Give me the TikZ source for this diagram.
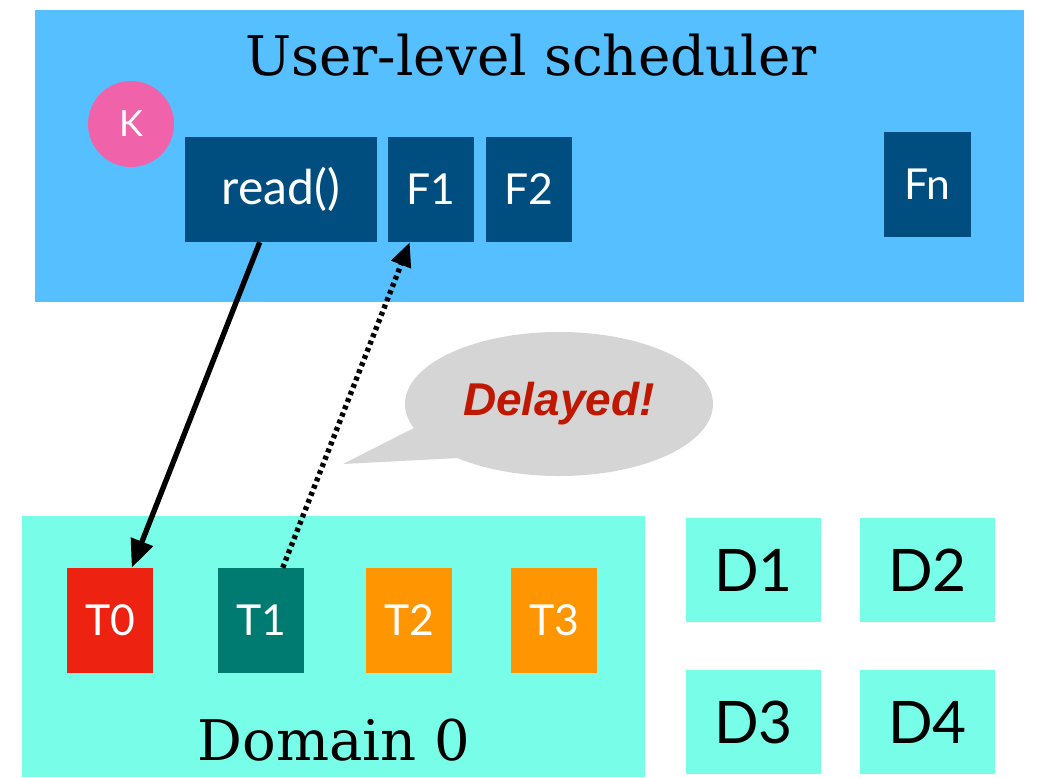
\documentclass[tikz,border=0pt]{standalone}
\usepackage{fontspec}
\setmainfont{DejaVu Serif}
\newfontfamily\boxfont{Lato}
\newfontfamily\delfont{Liberation Sans}
\usetikzlibrary{arrows.meta,shapes.geometric,calc}
\definecolor{schedblue}{HTML}{56BFFF}
\definecolor{fblue}{HTML}{004E80}
\definecolor{kpink}{HTML}{F062AA}
\definecolor{aqua}{HTML}{78FDE9}
\definecolor{tred}{HTML}{EE2211}
\definecolor{tteal}{HTML}{007B72}
\definecolor{torange}{HTML}{FF9500}
\definecolor{bubblegray}{HTML}{D5D5D5}
\definecolor{delred}{HTML}{C01800}
\begin{document}
\begin{tikzpicture}[x=0.75pt,y=-0.75pt,
  fbox/.style={fill=fblue,text=white,inner sep=0pt,font=\boxfont\fontsize{32}{32}\selectfont,
    minimum width=64.5pt,minimum height=78.75pt},
  tbox/.style={inner sep=0pt,text=white,font=\boxfont\fontsize{32}{32}\selectfont,
    minimum width=64.5pt,minimum height=78.75pt},
  dbox/.style={fill=aqua,inner sep=0pt,font=\boxfont\fontsize{44}{44}\selectfont,
    minimum width=101.25pt,minimum height=78pt},
  arr/.style={line width=4pt,-{Triangle[length=21pt,width=17pt]}},
  dotarr/.style={line width=4pt,dash pattern=on 3pt off 2.8pt,-{Triangle[length=18pt,width=15pt]}}
]
\useasboundingbox (0,0) rectangle (1037,777);
\fill[white] (0,0) rectangle (1037,777);
% scheduler panel
\node[fill=schedblue,inner sep=0pt,minimum width=741.75pt,minimum height=219pt] (sched) at (529.5,156) {};
\node[font=\fontsize{41}{41}\selectfont] (title) at (531,55) {User-level scheduler};
\node[circle,fill=kpink,inner sep=0pt,minimum size=64.5pt,text=white,font=\boxfont\fontsize{27}{27}\selectfont] (K) at (131,124) {K};
\node[fbox,minimum width=144pt,font=\boxfont\fontsize{36}{36}\selectfont] (read) at (281,189.5) {read()};
\node[fbox] (F1) at (431,189.5) {F1};
\node[fbox] (F2) at (529,189.5) {F2};
\node[fbox,minimum width=65.25pt] (Fn) at (927.5,184.5) {Fn};
% domain 0
\node[fill=aqua,inner sep=0pt,minimum width=467.25pt,minimum height=195.75pt] (dom) at (333.5,646.5) {};
\node[font=\fontsize{42}{42}\selectfont] (domlabel) at (334,740) {Domain 0};
\node[tbox,fill=tred] (T0) at (110,620.5) {T0};
\node[tbox,fill=tteal] (T1) at (261,620.5) {T1};
\node[tbox,fill=torange] (T2) at (409,620.5) {T2};
\node[tbox,fill=torange] (T3) at (554,620.5) {T3};
% other domains
\node[dbox] (D1) at (753.5,570) {D1};
\node[dbox] (D2) at (927.5,570) {D2};
\node[dbox] (D3) at (753.5,722) {D3};
\node[dbox] (D4) at (927.5,722) {D4};
% bubble
\coordinate (tail) at (343,464);
\fill[bubblegray] (tail) -- (414,428) -- (458,458) -- cycle;
\node[ellipse,fill=bubblegray,inner sep=0pt,minimum width=231pt,minimum height=108pt,
  text=delred,font=\delfont\bfseries\itshape\fontsize{34.5}{34.5}\selectfont] (bubble) at (559,404) {Delayed!};
% connectors
\draw[arr] ($(read.south west)+(75,0)$) -- ($(T0.north west)+(65,0)$);
\draw[dotarr] ($(T1.north west)+(65,0)$) -- ($(F1.south west)+(22,0)$);
\end{tikzpicture}
\end{document}
